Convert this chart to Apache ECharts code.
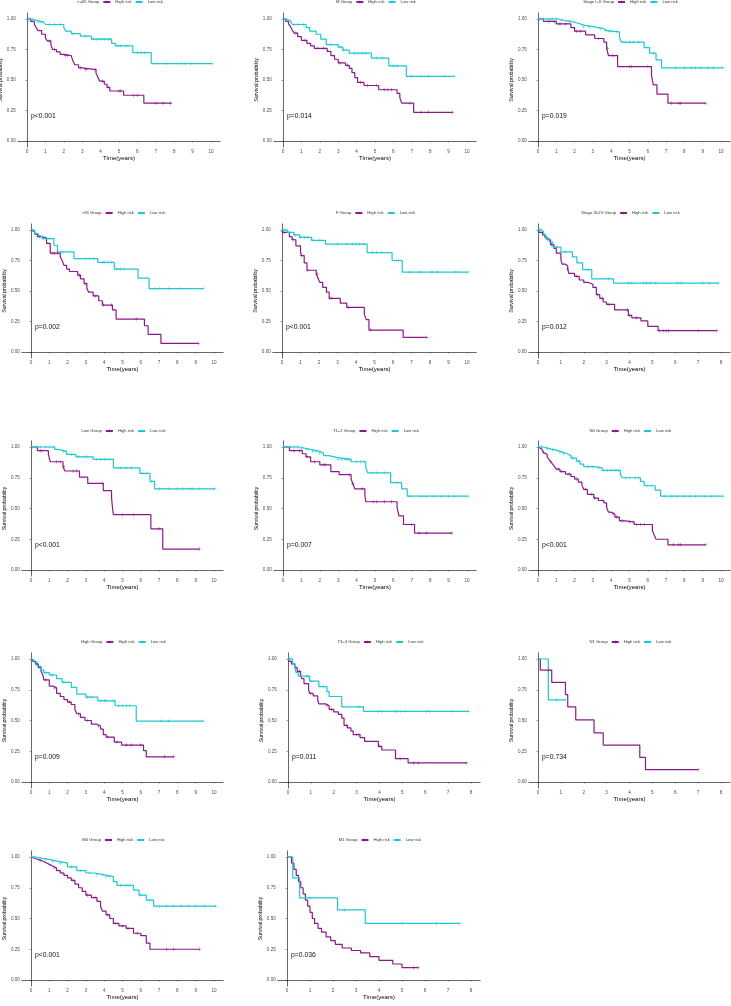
<!DOCTYPE html>
<html>
<head>
<meta charset="utf-8">
<script src="https://cdn.jsdelivr.net/npm/echarts@6/dist/echarts.min.js"></script>
<style>
html, body { margin: 0; padding: 0; background: #fff; }
#km { width: 731px; height: 1006px; }
</style>
</head>
<body>
<div id="km"></div>
<script>
// ---- data ----
const groupNames = ["<=65 Group", "M Group", "Stage I+II Group", ">65 Group", "F Group", "Stage III+IV Group",
  "Low Group", "T1+2 Group", "N0 Group", "High Group", "T3+4 Group", "N1 Group", "M0 Group", "M1 Group"];
const pValues = ["p<0.001", "p=0.014", "p=0.019", "p=0.002", "p<0.001", "p=0.012",
  "p<0.001", "p=0.007", "p<0.001", "p=0.009", "p=0.011", "p=0.734", "p<0.001", "p=0.036"];
const timeMax = [10, 10, 10, 10, 10, 8, 10, 10, 10, 10, 8, 8, 10, 8];
const probTicks = [0, 0.25, 0.5, 0.75, 1];

// steps: [time, survival]; censors: times
const le65High = [[0,1],[0.2,0.98],[0.4,0.955],[0.5,0.93],[0.6,0.905],[0.8,0.875],[1.0,0.845],[1.1,0.82],[1.3,0.785],[1.4,0.75],[1.6,0.73],[1.8,0.71],[2.0,0.70],[2.4,0.685],[2.5,0.655],[2.6,0.625],[2.8,0.60],[3.0,0.585],[3.75,0.555],[3.85,0.525],[3.95,0.49],[4.2,0.465],[4.35,0.44],[4.5,0.41],[5.25,0.375],[6.35,0.31],[7.85,0.31]];
const le65HighCens = [1.2, 1.5, 2.1, 2.2, 2.9, 3.2, 3.7, 4.1, 4.4, 5.0, 5.1, 5.8, 6.0, 7.0, 7.4, 7.8];
const le65Low = [[0,1],[0.3,0.985],[0.6,0.975],[0.9,0.965],[1.0,0.955],[2.0,0.93],[2.1,0.90],[2.4,0.88],[2.9,0.86],[3.5,0.835],[4.6,0.80],[4.8,0.78],[5.75,0.725],[6.75,0.635],[10.05,0.635]];
const le65LowCens = [0.1, 0.3, 0.6, 0.8, 1.2, 1.5, 1.8, 2.5, 3.2, 3.6, 3.8, 4.0, 4.2, 4.4, 4.5, 4.9, 5.1, 5.4, 6.0, 6.2, 6.4, 7.1, 7.6, 8.4, 8.6, 8.9, 10.05];

const maleHigh = [[0,1],[0.15,0.98],[0.3,0.96],[0.4,0.94],[0.5,0.91],[0.6,0.885],[0.8,0.855],[1.0,0.825],[1.3,0.80],[1.5,0.78],[1.7,0.76],[2.4,0.735],[2.6,0.70],[2.8,0.67],[3.0,0.64],[3.4,0.62],[3.6,0.595],[3.75,0.56],[3.9,0.52],[4.05,0.48],[4.4,0.455],[5.2,0.42],[6.2,0.39],[6.35,0.355],[6.45,0.31],[7.1,0.235],[9.2,0.235]];
const maleHighCens = [0.7, 1.2, 1.9, 2.2, 3.1, 3.5, 4.2, 4.6, 5.1, 5.5, 5.7, 5.9, 6.9, 7.5, 7.9, 9.2];
const maleLow = [[0,1],[0.2,0.985],[0.4,0.97],[0.5,0.955],[1.25,0.93],[1.45,0.90],[1.8,0.875],[2.05,0.835],[2.35,0.79],[3.0,0.77],[3.25,0.745],[3.6,0.72],[4.8,0.68],[5.75,0.615],[6.7,0.53],[9.3,0.53]];
const maleLowCens = [0.1, 0.6, 0.8, 1.1, 2.6, 3.1, 3.3, 3.9, 4.1, 4.3, 4.5, 5.1, 5.4, 6.0, 6.2, 7.0, 7.5, 7.9, 8.8, 9.3];

const stage12High = [[0,1],[0.3,0.98],[1.0,0.96],[1.8,0.93],[2.0,0.90],[2.6,0.87],[3.1,0.84],[3.6,0.81],[3.75,0.76],[3.85,0.70],[4.35,0.61],[6.2,0.54],[6.3,0.46],[6.5,0.385],[7.1,0.31],[9.15,0.31]];
const stage12HighCens = [0.6, 0.9, 1.2, 1.5, 2.1, 2.3, 3.3, 3.8, 4.1, 5.0, 5.1, 6.0, 7.3, 7.7, 7.8, 9.15];
const stage12Low = [[0,1],[1.1,0.99],[1.4,0.98],[1.8,0.965],[2.2,0.95],[2.5,0.935],[3.1,0.92],[3.6,0.905],[3.75,0.895],[4.45,0.85],[4.55,0.81],[5.8,0.765],[6.1,0.72],[6.45,0.665],[6.75,0.60],[10.1,0.60]];
const stage12LowCens = [0.1, 0.3, 0.5, 0.7, 0.8, 1.0, 1.3, 1.7, 2.5, 2.8, 3.4, 3.7, 3.9, 4.1, 4.3, 4.8, 5.0, 5.2, 5.5, 6.3, 7.5, 8.0, 8.4, 8.6, 8.9, 9.3, 9.6, 10.1];

const gt65High = [[0,1],[0.02,0.985],[0.2,0.965],[0.35,0.945],[0.6,0.935],[0.85,0.89],[1.05,0.81],[1.6,0.78],[1.7,0.75],[1.8,0.71],[1.95,0.68],[2.1,0.66],[2.55,0.63],[2.7,0.60],[2.9,0.56],[3.05,0.525],[3.15,0.49],[3.4,0.46],[3.7,0.42],[3.9,0.385],[4.45,0.345],[4.65,0.27],[6.2,0.215],[6.4,0.145],[7.1,0.07],[9.15,0.07]];
const gt65HighCens = [0.45, 1.15, 1.3, 1.45, 2.65, 3.0, 3.5, 3.95, 4.4, 5.75, 9.15];
const gt65Low = [[0,1],[0.2,0.97],[0.4,0.95],[0.6,0.93],[1.25,0.875],[1.45,0.82],[2.35,0.765],[3.65,0.735],[4.55,0.68],[5.85,0.605],[6.45,0.52],[9.4,0.52]];
const gt65LowCens = [0.1, 0.3, 0.7, 1.0, 1.7, 3.0, 3.2, 3.4, 3.9, 4.0, 4.2, 4.4, 4.7, 4.9, 5.1, 6.8, 7.0, 7.5, 8.2, 9.4];

const femaleHigh = [[0,1],[0.02,0.98],[0.4,0.945],[0.55,0.92],[0.75,0.87],[1.0,0.82],[1.05,0.79],[1.2,0.73],[1.35,0.67],[1.85,0.64],[1.95,0.605],[2.05,0.57],[2.2,0.53],[2.4,0.49],[2.55,0.44],[3.15,0.40],[3.5,0.365],[4.45,0.31],[4.55,0.265],[4.7,0.18],[6.55,0.12],[7.8,0.12]];
const femaleHighCens = [0.1, 0.6, 1.05, 1.4, 1.9, 2.6, 2.7, 3.6, 4.8, 7.8];
const femaleLow = [[0,1],[0.3,0.98],[0.65,0.96],[0.95,0.94],[1.6,0.915],[2.35,0.885],[4.6,0.815],[5.95,0.75],[6.5,0.655],[10.05,0.655]];
const femaleLowCens = [0.1, 0.2, 0.4, 0.7, 1.0, 1.2, 1.4, 1.7, 2.0, 3.0, 3.5, 3.8, 4.0, 4.2, 4.4, 4.9, 5.1, 5.4, 6.2, 6.3, 6.9, 7.5, 8.1, 8.4, 9.4, 10.05];

const stage34High = [[0,1],[0.05,0.98],[0.2,0.96],[0.3,0.94],[0.4,0.92],[0.55,0.88],[0.7,0.85],[0.8,0.81],[1.0,0.76],[1.05,0.72],[1.2,0.705],[1.3,0.68],[1.35,0.645],[1.6,0.62],[1.8,0.59],[2.0,0.57],[2.2,0.555],[2.4,0.53],[2.55,0.47],[2.7,0.44],[2.85,0.41],[3.0,0.39],[3.35,0.345],[3.95,0.30],[4.1,0.28],[4.5,0.255],[4.8,0.21],[5.25,0.175],[7.8,0.175]];
const stage34HighCens = [0.6, 1.3, 1.7, 2.6, 2.8, 3.1, 3.9, 4.0, 4.3, 5.3, 5.5, 5.6, 5.7, 7.0, 7.8];
const stage34Low = [[0,1],[0.15,0.985],[0.25,0.96],[0.35,0.93],[0.5,0.90],[0.65,0.86],[1.0,0.82],[1.5,0.78],[1.7,0.73],[1.95,0.675],[2.35,0.60],[3.3,0.565],[7.9,0.565]];
const stage34LowCens = [0.05, 0.1, 0.4, 0.8, 1.2, 2.2, 3.1, 3.95, 4.1, 4.6, 4.75, 4.9, 5.15, 6.1, 6.25, 7.2, 7.5, 7.9];

const lowGrpHigh = [[0,1],[0.35,0.97],[0.95,0.94],[1.0,0.91],[1.05,0.88],[1.75,0.84],[1.85,0.805],[2.65,0.755],[3.1,0.705],[3.95,0.645],[4.4,0.59],[4.45,0.51],[4.5,0.45],[6.55,0.335],[7.2,0.17],[9.2,0.17]];
const lowGrpHighCens = [0.5, 0.6, 1.4, 1.6, 1.8, 2.3, 2.5, 3.9, 5.0, 5.6, 7.0, 9.2];
const lowGrpLow = [[0,1],[1.3,0.98],[1.5,0.965],[1.95,0.94],[2.45,0.92],[3.4,0.90],[4.5,0.83],[5.95,0.785],[6.5,0.72],[6.75,0.66],[10.05,0.66]];
const lowGrpLowCens = [0.1, 0.3, 0.5, 0.8, 1.0, 1.2, 1.8, 2.2, 2.6, 2.9, 3.1, 3.6, 3.8, 4.0, 4.1, 4.3, 4.9, 5.2, 5.5, 6.1, 6.3, 6.6, 7.0, 7.5, 8.0, 8.3, 8.6, 8.8, 9.2, 10.05];

const t12High = [[0,1],[0.35,0.97],[1.05,0.945],[1.25,0.92],[1.5,0.88],[2.0,0.855],[2.6,0.80],[3.05,0.775],[3.7,0.74],[3.8,0.70],[3.9,0.66],[4.45,0.61],[4.5,0.555],[6.2,0.51],[6.3,0.44],[6.55,0.37],[7.15,0.30],[9.15,0.30]];
const t12HighCens = [0.6, 0.9, 1.3, 1.7, 2.2, 2.3, 3.6, 3.8, 4.3, 4.9, 5.1, 5.5, 5.9, 7.0, 7.4, 7.8, 9.15];
const t12Low = [[0,1],[0.9,0.99],[1.2,0.98],[1.5,0.965],[2.0,0.95],[2.2,0.93],[2.5,0.915],[2.9,0.90],[3.7,0.88],[4.5,0.835],[4.6,0.79],[5.85,0.71],[6.45,0.66],[6.75,0.60],[10.05,0.60]];
const t12LowCens = [0.05, 0.2, 0.4, 0.6, 0.8, 1.0, 1.3, 1.6, 1.8, 2.0, 3.0, 3.2, 3.4, 3.5, 3.6, 4.0, 4.2, 4.4, 4.8, 5.1, 5.5, 6.2, 6.9, 7.5, 7.8, 8.2, 8.6, 9.0, 9.3, 10.05];

const n0High = [[0,1],[0.1,0.985],[0.2,0.97],[0.3,0.955],[0.4,0.94],[0.5,0.92],[0.6,0.90],[0.7,0.88],[0.8,0.86],[0.9,0.84],[1.0,0.82],[1.2,0.80],[1.5,0.78],[1.8,0.76],[2.0,0.74],[2.2,0.715],[2.4,0.69],[2.5,0.655],[2.7,0.615],[3.05,0.585],[3.3,0.565],[3.6,0.545],[3.75,0.51],[3.85,0.47],[4.0,0.455],[4.2,0.43],[4.45,0.40],[4.8,0.39],[5.25,0.37],[6.25,0.32],[6.35,0.285],[6.45,0.25],[7.1,0.205],[9.15,0.205]];
const n0HighCens = [0.3, 0.7, 1.1, 1.3, 1.7, 2.1, 2.6, 2.9, 3.1, 3.5, 4.1, 4.3, 4.6, 5.0, 5.2, 5.4, 5.6, 5.8, 7.4, 7.7, 7.8, 9.15];
const n0Low = [[0,1],[0.3,0.985],[0.7,0.975],[1.0,0.96],[1.3,0.945],[1.6,0.93],[1.8,0.91],[2.1,0.885],[2.3,0.86],[2.5,0.84],[3.1,0.83],[3.5,0.81],[4.5,0.78],[4.6,0.75],[5.6,0.72],[5.8,0.685],[6.4,0.65],[6.7,0.60],[10.1,0.60]];
const n0LowCens = [0.05, 0.2, 0.5, 0.8, 1.2, 1.4, 1.9, 2.2, 2.7, 3.0, 3.3, 3.6, 3.8, 4.0, 4.2, 4.4, 4.8, 5.0, 5.3, 5.5, 6.0, 6.2, 6.9, 7.3, 7.6, 8.0, 8.3, 8.6, 9.1, 9.5, 10.1];

const highGrpHigh = [[0,1],[0.1,0.98],[0.25,0.96],[0.4,0.93],[0.55,0.90],[0.65,0.87],[0.7,0.83],[1.0,0.78],[1.2,0.765],[1.4,0.72],[1.6,0.695],[1.8,0.67],[2.0,0.65],[2.2,0.63],[2.4,0.59],[2.5,0.555],[2.7,0.525],[2.95,0.50],[3.3,0.47],[3.6,0.455],[3.8,0.43],[3.95,0.385],[4.1,0.365],[4.55,0.325],[4.95,0.30],[6.15,0.255],[6.3,0.205],[7.8,0.205]];
const highGrpHighCens = [0.3, 0.8, 1.3, 2.1, 2.6, 3.1, 3.7, 4.2, 4.7, 5.2, 5.5, 6.0, 7.3, 7.8];
const highGrpLow = [[0,1],[0.1,0.99],[0.2,0.97],[0.35,0.94],[0.55,0.91],[0.7,0.89],[1.0,0.87],[1.4,0.84],[1.7,0.81],[2.2,0.77],[2.5,0.715],[3.0,0.69],[3.65,0.66],[4.6,0.62],[5.75,0.495],[9.4,0.495]];
const highGrpLowCens = [0.05, 0.3, 0.8, 1.1, 1.2, 1.8, 3.1, 3.3, 3.8, 4.0, 4.1, 4.5, 4.8, 5.0, 5.2, 5.4, 7.1, 7.5, 9.4];

const t34High = [[0,1],[0.05,0.98],[0.15,0.96],[0.3,0.93],[0.4,0.90],[0.55,0.87],[0.6,0.84],[0.7,0.80],[0.9,0.75],[0.95,0.72],[1.1,0.70],[1.3,0.665],[1.35,0.635],[1.65,0.62],[1.8,0.59],[2.0,0.57],[2.2,0.55],[2.35,0.52],[2.45,0.46],[2.6,0.44],[2.75,0.415],[2.85,0.385],[3.15,0.36],[3.35,0.33],[3.95,0.29],[4.1,0.26],[4.7,0.19],[5.25,0.155],[7.8,0.155]];
const t34HighCens = [0.5, 1.0, 1.7, 1.9, 2.55, 3.0, 3.1, 4.0, 4.9, 5.5, 5.7, 7.8];
const t34Low = [[0,1],[0.2,0.96],[0.3,0.93],[0.35,0.89],[0.45,0.86],[0.95,0.82],[1.35,0.775],[1.7,0.735],[1.8,0.695],[2.35,0.61],[3.3,0.575],[7.9,0.575]];
const t34LowCens = [0.05, 0.1, 0.2, 0.8, 0.9, 1.0, 1.55, 3.1, 3.95, 4.1, 4.65, 4.75, 4.9, 5.1, 6.05, 6.2, 7.15, 7.9];

const n1High = [[0,1],[0.1,0.91],[0.6,0.81],[1.2,0.71],[1.3,0.61],[1.65,0.505],[2.45,0.40],[2.85,0.30],[4.45,0.20],[4.7,0.10],[7.0,0.10]];
const n1HighCens = [0.45, 7.0];
const n1Low = [[0,1],[0.45,0.667],[1.2,0.667]];
const n1LowCens = [0.8, 1.2];

const m0High = [[0,1],[0.1,0.99],[0.2,0.98],[0.4,0.97],[0.6,0.955],[0.8,0.94],[1.0,0.925],[1.2,0.91],[1.4,0.89],[1.6,0.87],[1.8,0.85],[2.0,0.83],[2.2,0.81],[2.4,0.78],[2.6,0.75],[2.8,0.72],[3.0,0.69],[3.3,0.67],[3.6,0.64],[3.8,0.60],[3.9,0.56],[4.1,0.53],[4.3,0.50],[4.5,0.46],[4.8,0.44],[5.2,0.42],[5.6,0.38],[6.0,0.36],[6.3,0.30],[6.5,0.25],[9.2,0.25]];
const m0HighCens = [0.5, 1.3, 1.7, 2.3, 3.1, 3.5, 4.2, 4.6, 5.0, 5.3, 5.8, 7.4, 7.8, 9.2];
const m0Low = [[0,1],[0.3,0.99],[0.6,0.98],[1.0,0.965],[1.5,0.95],[2.0,0.92],[2.5,0.89],[3.0,0.87],[3.5,0.855],[4.0,0.84],[4.5,0.80],[4.7,0.77],[5.6,0.73],[5.9,0.69],[6.3,0.65],[6.7,0.60],[10.1,0.60]];
const m0LowCens = [0.05, 0.2, 0.5, 0.8, 1.2, 1.6, 2.2, 2.7, 3.2, 3.6, 3.9, 4.1, 4.3, 4.9, 5.2, 5.4, 6.0, 6.5, 7.0, 7.4, 7.8, 8.2, 8.6, 9.0, 9.5, 10.1];

const m1High = [[0,1],[0.2,0.95],[0.3,0.90],[0.4,0.85],[0.5,0.80],[0.6,0.75],[0.7,0.70],[0.8,0.65],[0.9,0.60],[1.0,0.55],[1.1,0.50],[1.2,0.46],[1.35,0.42],[1.5,0.39],[1.7,0.35],[1.9,0.32],[2.1,0.29],[2.4,0.26],[2.8,0.24],[3.2,0.22],[3.6,0.19],[4.0,0.16],[4.6,0.13],[5.0,0.10],[5.7,0.10]];
const m1HighCens = [5.5, 5.7];
const m1Low = [[0,1],[0.25,0.83],[0.55,0.667],[2.2,0.57],[3.4,0.46],[7.5,0.46]];
const m1LowCens = [1.0, 2.5, 5.0, 6.5, 7.5];

const highCurves = [le65High, maleHigh, stage12High, gt65High, femaleHigh, stage34High, lowGrpHigh, t12High, n0High, highGrpHigh, t34High, n1High, m0High, m1High];
const highCens = [le65HighCens, maleHighCens, stage12HighCens, gt65HighCens, femaleHighCens, stage34HighCens, lowGrpHighCens, t12HighCens, n0HighCens, highGrpHighCens, t34HighCens, n1HighCens, m0HighCens, m1HighCens];
const lowCurves = [le65Low, maleLow, stage12Low, gt65Low, femaleLow, stage34Low, lowGrpLow, t12Low, n0Low, highGrpLow, t34Low, n1Low, m0Low, m1Low];
const lowCens = [le65LowCens, maleLowCens, stage12LowCens, gt65LowCens, femaleLowCens, stage34LowCens, lowGrpLowCens, t12LowCens, n0LowCens, highGrpLowCens, t34LowCens, n1LowCens, m0LowCens, m1LowCens];

// ---- layout (pixel positions of tick 0 and last tick) ----
const panelX = [[27,211],[283,467],[538,721],[31,214],[282,467],[538,721],[31,214],[283,467],[538,721],[31,214],[288,471],[538,721],[31,214],[287,471]];
const rowY = [[19,141],[230,352],[447,570],[659,782],[857,980]];
const legendY = [2, 213, 431, 642, 840];

const HIGH = "#8B1A89";
const LOW = "#1DC8D0";
const FONT = "Liberation Sans";
const PLUS = "path://M-1,-0.16L1,-0.16L1,0.16L-1,0.16Z M-0.16,-1L0.16,-1L0.16,1L-0.16,1Z";

function survAt(steps, t) {
  let s = steps[0][1];
  for (const p of steps) { if (p[0] <= t) s = p[1]; }
  return s;
}

const measureCtx = document.createElement("canvas").getContext("2d");
function textW(str, size) {
  measureCtx.font = size + "px '" + FONT + "'";
  return measureCtx.measureText(str).width;
}

const grids = [], xAxes = [], yAxes = [], series = [], legends = [], graphics = [];

groupNames.forEach(function (name, i) {
  const row = Math.floor(i / 3);
  const xm = timeMax[i];
  const x0 = panelX[i][0], x1 = panelX[i][1];
  const y1 = rowY[row][0], y0 = rowY[row][1];
  const ux = (x1 - x0) / xm, uy = y0 - y1;
  const left = x0 - 0.05 * xm * ux;
  const width = 1.1 * xm * ux;
  const top = y1 - 0.05 * uy;
  const height = 1.1 * uy;
  grids.push({ left: left, top: top, width: width, height: height, outerBoundsMode: "none" });

  const ticksX = [];
  for (let k = 0; k <= xm; k++) ticksX.push(k);

  xAxes.push({
    type: "value", gridIndex: i, min: -0.05 * xm, max: 1.05 * xm,
    name: "Time(years)", nameLocation: "middle", nameGap: 8.5,
    nameTextStyle: { fontFamily: FONT, fontSize: 6, color: "#000" },
    axisLine: { lineStyle: { color: "#000", width: 0.6 } },
    axisTick: { customValues: ticksX, length: 1.5, lineStyle: { color: "#333", width: 0.5 } },
    axisLabel: { customValues: ticksX, margin: 2, fontFamily: FONT, fontSize: 4.6, color: "#4D4D4D" },
    splitLine: { show: false }
  });
  yAxes.push({
    type: "value", gridIndex: i, min: -0.05, max: 1.05,
    name: "Survival probability", nameLocation: "middle", nameGap: 12,
    nameTextStyle: { fontFamily: FONT, fontSize: 5.2, color: "#000" },
    axisLine: { show: true, lineStyle: { color: "#000", width: 0.6 } },
    axisTick: { show: true, customValues: probTicks, length: 1.5, lineStyle: { color: "#333", width: 0.5 } },
    axisLabel: { customValues: probTicks, margin: 2, fontFamily: FONT, fontSize: 4.6, color: "#4D4D4D",
      formatter: function (v) { return v.toFixed(2); } },
    splitLine: { show: false }
  });

  series.push({
    name: "High risk", type: "line", step: "end", xAxisIndex: i, yAxisIndex: i,
    data: highCurves[i], showSymbol: false, symbol: PLUS, symbolSize: 4,
    lineStyle: { color: HIGH, width: 1.2 }, itemStyle: { color: HIGH }, z: 2
  });
  series.push({
    name: "Low risk", type: "line", step: "end", xAxisIndex: i, yAxisIndex: i,
    data: lowCurves[i], showSymbol: false, symbol: PLUS, symbolSize: 4,
    lineStyle: { color: LOW, width: 1.2 }, itemStyle: { color: LOW }, z: 3
  });
  series.push({
    type: "scatter", xAxisIndex: i, yAxisIndex: i, symbol: PLUS, symbolSize: 3.5,
    itemStyle: { color: HIGH }, z: 4,
    data: highCens[i].map(function (t) { return [t, survAt(highCurves[i], t)]; })
  });
  series.push({
    type: "scatter", xAxisIndex: i, yAxisIndex: i, symbol: PLUS, symbolSize: 3.5,
    itemStyle: { color: LOW }, z: 5,
    data: lowCens[i].map(function (t) { return [t, survAt(lowCurves[i], t)]; })
  });

  // legend row: group label followed by the two keys, centred on the panel
  const fs = 4.2;
  const wGroup = textW(name, fs);
  const wKeys = 2 * (7 + 5) + textW("High risk", fs) + textW("Low risk", fs) + 3;
  const cx = left + width / 2;
  const start = cx - (wGroup + 3 + wKeys) / 2;
  const ly = legendY[row];
  graphics.push({
    type: "text", left: start, top: ly - 2.5,
    style: { text: name, font: fs + "px '" + FONT + "'", fill: "#333" }
  });
  legends.push({
    left: start + wGroup + 3, top: ly - 2, padding: 0, itemGap: 3,
    itemWidth: 7, itemHeight: 4,
    data: ["High risk", "Low risk"],
    textStyle: { fontFamily: FONT, fontSize: fs, color: "#333" }
  });

  // p-value
  graphics.push({
    type: "text", left: x0 + 4, top: y0 - 0.2 * uy - 4,
    style: { text: pValues[i], font: "6.8px '" + FONT + "'", fill: "#111" }
  });
});

const chart = echarts.init(document.getElementById("km"), null, { renderer: "canvas" });
chart.setOption({
  animation: false,
  backgroundColor: "#fff",
  grid: grids,
  xAxis: xAxes,
  yAxis: yAxes,
  legend: legends,
  graphic: graphics,
  series: series
});
</script>
</body>
</html>
